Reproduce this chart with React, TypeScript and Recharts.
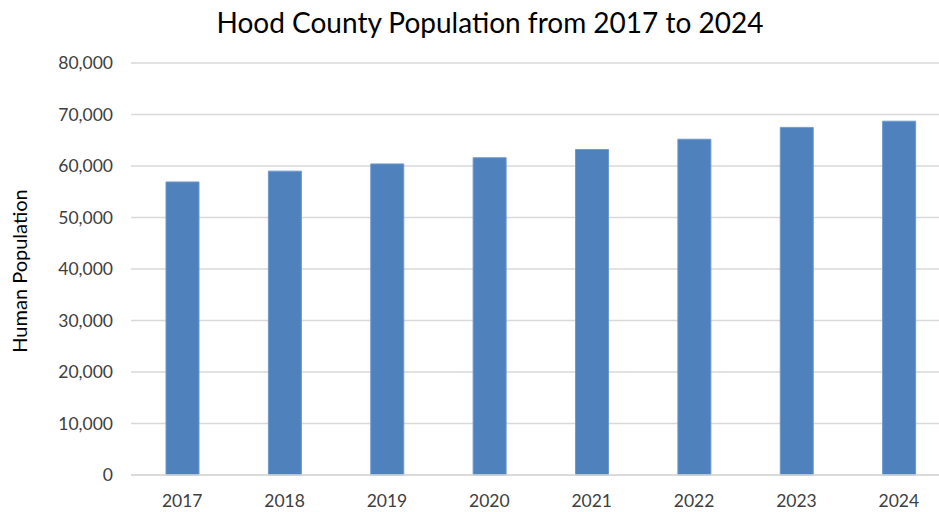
import React from "react";
import { BarChart, Bar, CartesianGrid, XAxis, YAxis } from "recharts";

// Hood County population by year
const YEARS = ["2017", "2018", "2019", "2020", "2021", "2022", "2023", "2024"];
const POPULATION = [56900, 59000, 60400, 61600, 63200, 65200, 67500, 68700];
const Y_TICKS = [0, 10000, 20000, 30000, 40000, 50000, 60000, 70000, 80000];

const FONT = "Lato, 'Open Sans', 'Liberation Sans', sans-serif";
const BAR_COLOR = "#4f81bd";
const GRID_COLOR = "#d9d9d9";
const TICK_STYLE = { fontSize: 17.5, fill: "#404040", fontFamily: FONT };

const data = YEARS.map((year, i) => ({ year, population: POPULATION[i] }));

export default function App() {
  return (
    <div
      style={{
        position: "absolute",
        left: 0,
        top: 0,
        width: 939,
        height: 512,
        overflow: "hidden",
        background: "#fff",
        fontFamily: FONT,
      }}
    >
      <div
        style={{
          position: "absolute",
          left: 0,
          top: 6,
          width: 980,
          textAlign: "center",
          fontSize: 28,
          lineHeight: 1.2,
          color: "#000",
        }}
      >
        Hood County Population from 2017 to 2024
      </div>
      <div
        style={{
          position: "absolute",
          left: 19,
          top: 271,
          transform: "translate(-50%, -50%) rotate(-90deg)",
          whiteSpace: "nowrap",
          fontSize: 20,
          color: "#000",
        }}
      >
        Human Population
      </div>
      <BarChart
        width={960}
        height={512}
        data={data}
        margin={{ top: 63, right: 10, bottom: 7, left: 0 }}
        style={{ position: "absolute", left: 0, top: 0 }}
      >
        <CartesianGrid vertical={false} stroke={GRID_COLOR} strokeWidth={1.5} />
        <XAxis
          dataKey="year"
          height={30}
          axisLine={{ stroke: GRID_COLOR, strokeWidth: 1.5 }}
          tickLine={false}
          tickMargin={14}
          tick={TICK_STYLE}
        />
        <YAxis
          width={131}
          domain={[0, 80000]}
          ticks={Y_TICKS}
          axisLine={false}
          tickLine={false}
          tickMargin={12}
          tickFormatter={(v: number) => v.toLocaleString("en-US")}
          tick={TICK_STYLE}
        />
        <Bar
          dataKey="population"
          fill={BAR_COLOR}
          stroke="#6f98cc"
          strokeWidth={1}
          barSize={33}
          isAnimationActive={false}
        />
      </BarChart>
    </div>
  );
}
